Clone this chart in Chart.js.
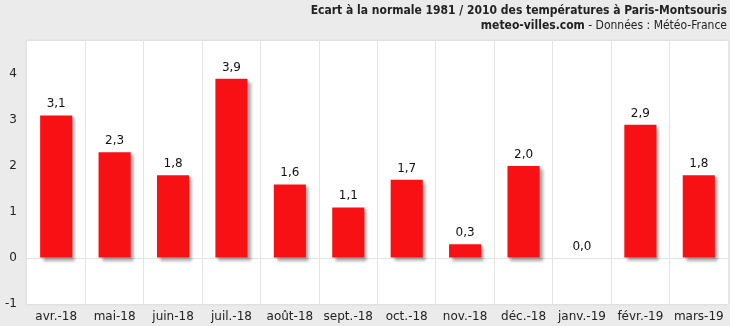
<!DOCTYPE html>
<html>
<head>
<meta charset="utf-8">
<script src="https://cdn.jsdelivr.net/npm/chart.js@4"></script>
<style>
  body { margin: 0; background: #ebebeb; }
  #wrap { position: relative; width: 730px; height: 326px; }
  #head { position: absolute; right: 3px; top: 3px; text-align: right; font-family: "DejaVu Sans Condensed", "DejaVu Sans", sans-serif; font-size: 12px; color: #222; line-height: 15px; }
  #head b { font-weight: bold; }
</style>
</head>
<body>
<div id="wrap">
  <canvas id="ecartChart" width="730" height="326"></canvas>
  <div id="head">
    <b>Ecart à la normale 1981 / 2010 des températures à Paris-Montsouris</b><br>
    <b>meteo-villes.com</b> - Données : Météo-France
  </div>
</div>
<script>
const months = ['avr.-18', 'mai-18', 'juin-18', 'juil.-18', 'août-18', 'sept.-18', 'oct.-18', 'nov.-18', 'déc.-18', 'janv.-19', 'févr.-19', 'mars-19'];
const ecarts = [3.1, 2.3, 1.8, 3.9, 1.6, 1.1, 1.7, 0.3, 2.0, 0.0, 2.9, 1.8];
const yTicks = [-1, 0, 1, 2, 3, 4];

// white plot area with a soft edge
const plotBg = {
    id: 'plotBg',
    beforeDraw(chart) {
        const { ctx, chartArea: a } = chart;
        ctx.save();
        ctx.shadowColor = 'rgba(0,0,0,0.12)';
        ctx.shadowBlur = 3;
        ctx.fillStyle = '#fff';
        ctx.fillRect(a.left, a.top, a.right - a.left, a.bottom - a.top);
        ctx.restore();
    }
};

// drop shadow under the bars
const barShadow = {
    id: 'barShadow',
    beforeDatasetsDraw(chart) {
        const ctx = chart.ctx;
        ctx.save();
        ctx.shadowColor = 'rgba(0,0,0,0.35)';
        ctx.shadowBlur = 3;
        ctx.shadowOffsetX = 3;
        ctx.shadowOffsetY = 3;
    },
    afterDatasetsDraw(chart) {
        chart.ctx.restore();
    }
};

// value labels above each bar, decimal comma
const valueLabels = {
    id: 'valueLabels',
    afterDatasetsDraw(chart) {
        const ctx = chart.ctx;
        const meta = chart.getDatasetMeta(0);
        ctx.save();
        ctx.font = '12px "DejaVu Sans", sans-serif';
        ctx.fillStyle = '#111';
        ctx.textAlign = 'center';
        ctx.textBaseline = 'alphabetic';
        meta.data.forEach((bar, i) => {
            const txt = ecarts[i].toFixed(1).replace('.', ',');
            ctx.fillText(txt, bar.x, Math.min(bar.y, bar.base) - 8);
        });
        ctx.restore();
    }
};

const ctx = document.getElementById('ecartChart').getContext('2d');
const ecartChart = new Chart(ctx, {
    type: 'bar',
    data: {
        labels: months,
        datasets: [{
            data: ecarts,
            backgroundColor: '#f81114',
            borderWidth: 0,
            categoryPercentage: 1,
            barPercentage: 0.55
        }]
    },
    options: {
        responsive: false,
        animation: false,
        layout: { padding: { top: 41, right: 2, left: 0, bottom: 0 } },
        plugins: {
            legend: { display: false },
            tooltip: { enabled: false }
        },
        scales: {
            x: {
                grid: { color: '#e4e4e4', drawTicks: false },
                border: { display: false },
                ticks: {
                    color: '#222',
                    padding: 6,
                    maxRotation: 0,
                    autoSkip: false,
                    font: { family: '"DejaVu Sans", sans-serif', size: 12 }
                },
                afterFit(scale) { scale.height = 22; }
            },
            y: {
                min: -1,
                max: 4.72,
                afterBuildTicks(scale) {
                    scale.ticks = yTicks.map(v => ({ value: v }));
                },
                grid: {
                    color: c => (c.tick && c.tick.value === 0) ? '#e4e4e4' : 'rgba(0,0,0,0)',
                    drawTicks: false
                },
                border: { display: false },
                ticks: {
                    color: '#222',
                    padding: 10,
                    font: { family: '"DejaVu Sans", sans-serif', size: 12 }
                },
                afterFit(scale) { scale.width = 27; }
            }
        }
    },
    plugins: [plotBg, barShadow, valueLabels]
});
</script>
</body>
</html>
